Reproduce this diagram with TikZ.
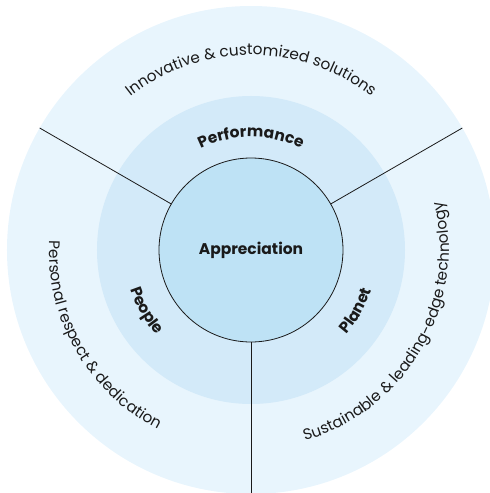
\documentclass[tikz,border=0pt]{standalone}
\usepackage{fontspec}
\setmainfont{Poppins}
\usetikzlibrary{decorations.text}
\definecolor{ringout}{HTML}{E8F5FD}
\definecolor{ringmid}{HTML}{D3EAF9}
\definecolor{ringcore}{HTML}{BEE2F5}
\definecolor{ink}{HTML}{1A1A1A}

\begin{document}
\begin{tikzpicture}[x=1pt,y=1pt,
  core/.style={circle,draw=ink,line width=0.8pt,fill=ringcore,minimum size=184pt,
               inner sep=0pt,text=ink,font=\fontsize{15.5}{18}\selectfont\bfseries},
  spoke/.style={draw=ink,line width=0.8pt},
  outtext/.style={decorate,decoration={text along path,text align=center,
               text color=ink,text={|\fontsize{15.3}{18}\selectfont|#1}}},
  midtext/.style={decorate,decoration={text along path,text align=center,
               text color=ink,text={|\fontsize{15.5}{18}\selectfont\bfseries|#1}}}
]
  \useasboundingbox (-251,-243) rectangle (239,250);
  \fill[ringout] (0,0) circle (244);
  \fill[ringmid] (0,0) circle (154);
  \node[core] (app) at (0,0) {Appreciation};
  \foreach \a in {30,150,270}
    \coordinate (rim\a) at (\a:244);
  \foreach \a in {30,150,270}
    \draw[spoke] (app.\a) -- (rim\a);

  \path[outtext={Innovative {\&} customized solutions}]
    (150:195) arc[start angle=150,end angle=30,radius=195];
  \path[outtext={Personal respect {\&} dedication}]
    (150:202) arc[start angle=150,end angle=270,radius=202];
  \path[outtext={Sustainable {\&} leading-edge technology}]
    (270:198) arc[start angle=270,end angle=390,radius=198];

  \path[midtext=Performance]
    (150:113) arc[start angle=150,end angle=30,radius=113];
  \path[midtext=People]
    (150:127) arc[start angle=150,end angle=270,radius=127];
  \path[midtext=Planet]
    (270:127) arc[start angle=270,end angle=390,radius=127];
\end{tikzpicture}
\end{document}
